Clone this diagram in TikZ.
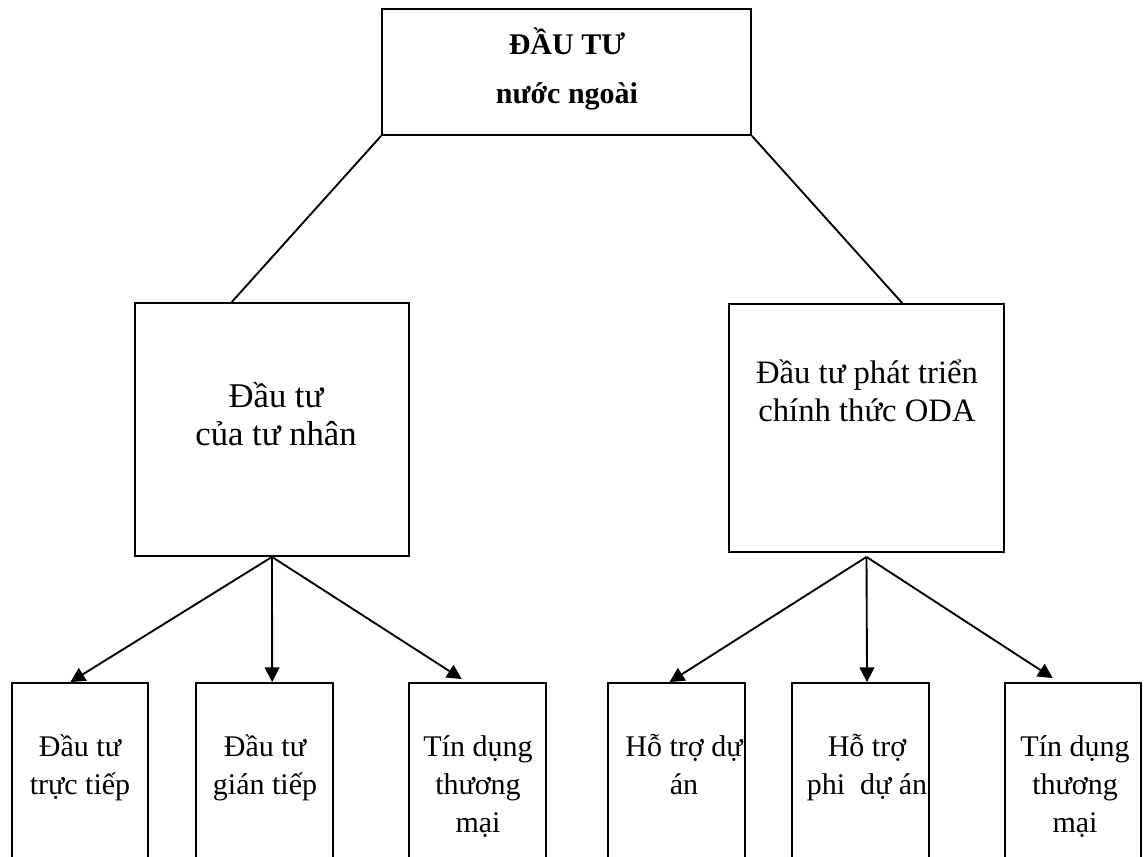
\documentclass[tikz,border=0pt]{standalone}
\usepackage{fontspec}
\setmainfont{Liberation Serif}
\usetikzlibrary{arrows.meta,calc,fit}
\begin{document}
\begin{tikzpicture}[x=0.75pt,y=-0.75pt,
  box/.style={draw,line width=1.4pt,inner sep=0pt},
  conn/.style={line width=1.4pt},
  arr/.style={line width=1.4pt,-{Triangle[length=11pt,width=11pt]}},
  toptxt/.style={anchor=base,inner sep=0pt,font=\fontsize{22.5}{36}\selectfont\bfseries},
  midtxt/.style={anchor=base,inner sep=0pt,font=\fontsize{25.5}{29}\selectfont},
  lowtxt/.style={anchor=base,inner sep=0pt,font=\fontsize{22.5}{28.5}\selectfont}]
\useasboundingbox (0,0) rectangle (1144,856);
\clip (0,0) rectangle (1144,856);
% boxes
\node[box,fit={(382,9) (751,135)}] (top) {};
\node[box,fit={(135,303) (409,556)}] (lm) {};
\node[box,fit={(729,304) (1004,552)}] (rm) {};
\node[box,fit={(12,683) (148,880)}] (b1) {};
\node[box,fit={(196,683) (333,880)}] (b2) {};
\node[box,fit={(409,683) (546,880)}] (b3) {};
\node[box,fit={(608,683) (745,880)}] (b4) {};
\node[box,fit={(792,683) (929,880)}] (b5) {};
\node[box,fit={(1005,683) (1141,880)}] (b6) {};
% texts
\node[toptxt] (ttop) at (567,55) {\begin{tabular}[t]{@{}c@{}}ĐẦU TƯ\\nước ngoài\end{tabular}};
\node[midtxt,font=\fontsize{26}{29}\selectfont] (tlm) at (276,407) {\begin{tabular}[t]{@{}c@{}}Đầu tư\\của tư nhân\end{tabular}};
\node[midtxt,font=\fontsize{24.5}{29}\selectfont] (trm) at (867,383) {\begin{tabular}[t]{@{}c@{}}Đầu tư phát triển\\chính thức ODA\end{tabular}};
\node[lowtxt] (t1) at (80,756) {\begin{tabular}[t]{@{}c@{}}Đầu tư\\trực tiếp\end{tabular}};
\node[lowtxt] (t2) at (265,756) {\begin{tabular}[t]{@{}c@{}}Đầu tư\\gián tiếp\end{tabular}};
\node[lowtxt] (t3) at (478,756) {\begin{tabular}[t]{@{}c@{}}Tín dụng\\thương\\mại\end{tabular}};
\node[lowtxt] (t4) at (684,756) {\begin{tabular}[t]{@{}c@{}}Hỗ trợ dự\\án\end{tabular}};
\node[lowtxt] (t5) at (867,756) {\begin{tabular}[t]{@{}c@{}}Hỗ trợ\\phi\ \ dự án\end{tabular}};
\node[lowtxt] (t6) at (1075,756) {\begin{tabular}[t]{@{}c@{}}Tín dụng\\thương\\mại\end{tabular}};
% connectors
\draw[conn] (top.south west) -- ($(lm.north west)!0.354!(lm.north east)$);
\draw[conn] (top.south east) -- ($(rm.north west)!0.629!(rm.north east)$);
\coordinate (ls) at (lm.south);
\coordinate (rs) at ($(rm.south)+(0,4)$);
\draw[arr] (ls) -- ($(b1.north west)!0.43!(b1.north east)$);
\draw[arr] (ls) -- ($(b2.north west)!0.555!(b2.north east)$);
\draw[arr] (ls) -- ($(b3.north west)!0.387!(b3.north east)+(0,-3)$);
\draw[arr] (rs) -- ($(b4.north west)!0.45!(b4.north east)$);
\draw[arr] (rs) -- ($(b5.north west)!0.547!(b5.north east)$);
\draw[arr] (rs) -- ($(b6.north west)!0.353!(b6.north east)+(0,-4)$);
\end{tikzpicture}
\end{document}
